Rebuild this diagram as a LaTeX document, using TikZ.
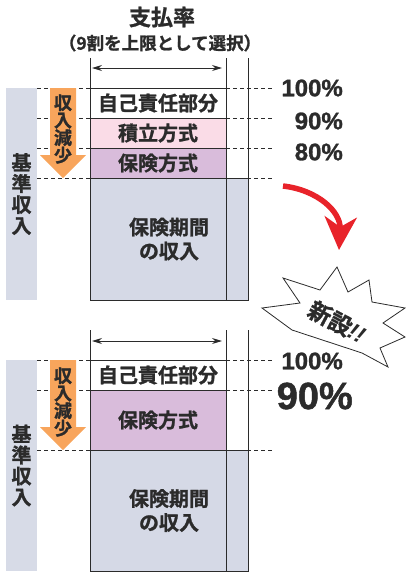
\documentclass[tikz,border=0pt]{standalone}
\usepackage{fontspec}
\setmainfont{Liberation Sans}
\newfontfamily\jp{Noto Sans CJK JP}[BoldFont={Noto Sans CJK JP Bold},BoldFeatures={FakeBold=1.2}]
\newfontfamily\pctfont{Liberation Sans}[BoldFeatures={FakeBold=1.2}]
\usepackage{tikz}
\usetikzlibrary{arrows.meta,positioning}

\definecolor{inkgrey}{HTML}{2B2B2B}
\definecolor{basegrey}{HTML}{D5D9E6}
\definecolor{barblue}{HTML}{D7DBE7}
\definecolor{tsumipink}{HTML}{FADCE7}
\definecolor{hokenpurple}{HTML}{D9BCDB}
\definecolor{droporange}{HTML}{F8A55C}
\definecolor{newred}{HTML}{E8232A}

\tikzset{
  part/.style={draw=inkgrey, line width=0.8pt, minimum width=136pt,
    minimum height=30pt, inner sep=0pt, text=inkgrey,
    font=\jp\bfseries\fontsize{20}{24}\selectfont},
  income/.style={part, fill=basegrey, minimum width=158pt, align=center},
  guide/.style={inkgrey, line width=0.7pt, dash pattern=on 4pt off 3pt},
  rule/.style={inkgrey, line width=0.9pt},
  pct/.style={anchor=east, inner sep=0pt, text=inkgrey,
    font=\pctfont\bfseries\fontsize{24}{24}\selectfont},
  sidebar/.style={fill=barblue, minimum width=31pt, inner sep=0pt,
    align=center, text=inkgrey, font=\jp\bfseries\fontsize{20}{21}\selectfont},
  droptext/.style={align=center, inner sep=0pt, text=inkgrey,
    font=\jp\bfseries\fontsize{18}{17.5}\selectfont},
  widtharrow/.style={{Stealth[length=10pt,width=6pt]}-{Stealth[length=10pt,width=6pt]},
    inkgrey, line width=0.9pt}
}

\begin{document}
\begin{tikzpicture}[x=1pt,y=-1pt]
	\useasboundingbox (0,0) rectangle (406,574);

	% heading
	\node[text=inkgrey, font=\jp\bfseries\fontsize{22}{22}\selectfont] (rate) at (162,17) {支払率};
	\node[text=inkgrey, font=\jp\bfseries\fontsize{17.5}{17.5}\selectfont] (ratenote) at (160,43) {（9割を上限として選択）};

	% ---- before ----
	\foreach \y in {88,118,148,178}
		\draw[guide] (37,\y) -- (272,\y);

	\node[sidebar, minimum height=212pt] (basebar) at (21.5,194) {基\\準\\収\\入};
	\fill[droporange] (50,88) -- (76,88) -- (76,155) -- (86,155) -- (63,178) -- (40,155) -- (50,155) -- cycle;
	\node[droptext] (drop) at (63,129) {収\\入\\減\\少};

	\node[part, fill=white] (self) at (158,103) {自己責任部分};
	\node[part, fill=tsumipink] (fund) at (158,133) {積立方式};
	\node[part, fill=hokenpurple] (insure) at (158,163) {保険方式};
	\node[income, minimum height=122pt] (period) at (169,239) {保険期間\\の収入};

	\foreach \x in {90,226,248}
		\draw[rule] (\x,58) -- (\x,300);
	\coordinate (wl) at (92,68);
	\coordinate (wr) at (222,68);
	\draw[widtharrow] (wl) -- (wr);

	\node[pct] (p100) at (343,88) {100\%};
	\node[pct] (p90) at (343,121) {90\%};
	\node[pct] (p80) at (343,152) {80\%};

	% red turn arrow and burst
	\coordinate (turnfrom) at (283,186);
	\coordinate (turnto) at (339,250);
	\draw[newred, line width=5.5pt, -{Stealth[length=33pt,width=32pt,inset=10pt]}]
		(turnfrom) .. controls (318,190) and (341,212) .. (turnto);

	\draw[inkgrey, fill=white, line width=0.8pt, line join=miter]
		(283,278) -- (320,290) -- (337,267) -- (348,292) -- (369,280) -- (372,302)
		-- (405,308) -- (383,323) -- (405,337) -- (380,348) -- (388,367) -- (362,353)
		-- (292,330) -- (262,308) -- (300,303) -- cycle;
	\node[rotate=-28, inner sep=0pt, text=inkgrey,
		font=\jp\bfseries\fontsize{23}{23}\selectfont] (shinsetsu) at (337,322)
		{新設{\pctfont\bfseries\itshape !!}};

	% ---- after ----
	\foreach \y in {360,390,450}
		\draw[guide] (37,\y) -- (272,\y);

	\node[sidebar, minimum height=211pt] (basebar2) at (21.5,465.5) {基\\準\\収\\入};
	\fill[droporange] (50,360) -- (76,360) -- (76,427) -- (86,427) -- (63,450) -- (40,427) -- (50,427) -- cycle;
	\node[droptext] (drop2) at (63,402) {収\\入\\減\\少};

	\node[part, fill=white] (self2) at (158,375) {自己責任部分};
	\node[part, fill=hokenpurple, minimum height=60pt] (insure2) at (158,420) {保険方式};
	\node[income, minimum height=121pt] (period2) at (169,510.5) {保険期間\\の収入};

	\foreach \x in {90,226,248}
		\draw[rule] (\x,330) -- (\x,571);
	\coordinate (wl2) at (92,341);
	\coordinate (wr2) at (222,341);
	\draw[widtharrow] (wl2) -- (wr2);

	\node[pct] (q100) at (343,361) {100\%};
	\node[pct, font=\pctfont\bfseries\fontsize{38}{38}\selectfont] (q90) at (353,396) {90\%};
\end{tikzpicture}
\end{document}
